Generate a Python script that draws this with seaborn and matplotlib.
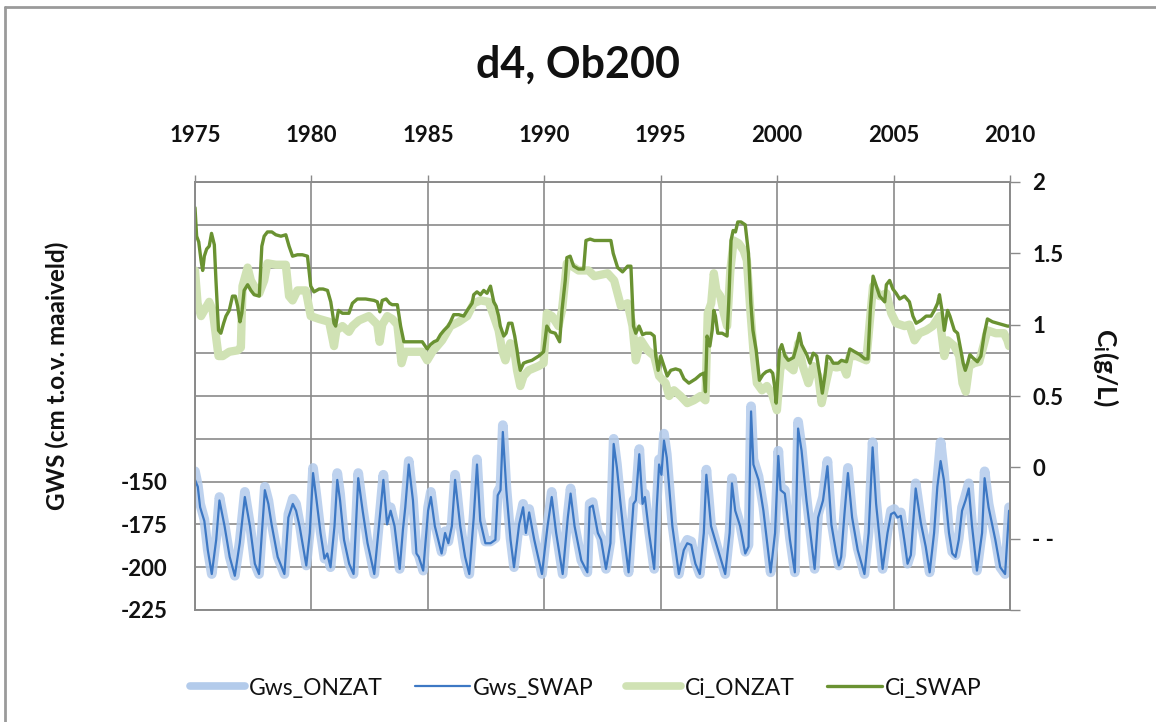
import matplotlib
matplotlib.use("Agg")
import matplotlib.pyplot as plt
import seaborn as sns
import pandas as pd
from matplotlib.lines import Line2D

# ---- groundwater level (cm relative to surface), primary axis ----
gws_years = [
    1975.0, 1975.12, 1975.22, 1975.40, 1975.55, 1975.72, 1975.91, 1976.05, 1976.27, 1976.49,
    1976.71, 1976.92, 1977.14, 1977.36, 1977.57, 1977.75, 1978.00, 1978.15, 1978.29, 1978.55,
    1978.84, 1979.01, 1979.20, 1979.34, 1979.49, 1979.64, 1979.78, 1979.93, 1980.07, 1980.22,
    1980.39, 1980.56, 1980.68, 1980.82, 1980.99, 1981.11, 1981.23, 1981.40, 1981.62, 1981.81,
    1981.94, 1982.01, 1982.20, 1982.41, 1982.70, 1982.92, 1983.09, 1983.25, 1983.40, 1983.57,
    1983.79, 1983.93, 1984.03, 1984.18, 1984.36, 1984.51, 1984.61, 1984.80, 1985.01, 1985.13,
    1985.30, 1985.59, 1985.74, 1985.88, 1986.03, 1986.17, 1986.39, 1986.60, 1986.78, 1986.97,
    1987.11, 1987.25, 1987.47, 1987.69, 1987.90, 1988.00, 1988.12, 1988.22, 1988.37, 1988.55,
    1988.70, 1988.92, 1989.09, 1989.21, 1989.35, 1989.57, 1989.90, 1990.14, 1990.32, 1990.51,
    1990.79, 1991.01, 1991.13, 1991.30, 1991.59, 1991.85, 1991.95, 1992.08, 1992.30, 1992.44,
    1992.65, 1992.84, 1992.98, 1993.12, 1993.26, 1993.41, 1993.62, 1993.83, 1993.93, 1994.08,
    1994.22, 1994.32, 1994.50, 1994.72, 1994.83, 1994.93, 1995.03, 1995.14, 1995.26, 1995.50,
    1995.78, 1995.99, 1996.14, 1996.31, 1996.49, 1996.68, 1996.85, 1996.96, 1997.16, 1997.42,
    1997.77, 1997.96, 1998.06, 1998.20, 1998.41, 1998.63, 1998.77, 1998.88, 1998.98, 1999.20,
    1999.41, 1999.72, 1999.91, 2000.05, 2000.15, 2000.33, 2000.55, 2000.76, 2000.90, 2001.05,
    2001.26, 2001.61, 2001.76, 2001.97, 2002.16, 2002.33, 2002.54, 2002.65, 2002.75, 2002.89,
    2003.04, 2003.22, 2003.46, 2003.75, 2003.93, 2004.10, 2004.25, 2004.53, 2004.74, 2004.89,
    2005.03, 2005.17, 2005.31, 2005.46, 2005.60, 2005.74, 2005.95, 2006.17, 2006.38, 2006.55,
    2006.74, 2006.88, 2007.02, 2007.16, 2007.38, 2007.52, 2007.66, 2007.80, 2007.94, 2008.09,
    2008.23, 2008.37, 2008.58, 2008.80, 2008.91, 2009.08, 2009.37, 2009.58, 2009.79, 2009.96,
]
gws_swap = [
    -149, -153, -165, -173, -190, -204, -184, -161, -176, -194,
    -205, -186, -159, -176, -198, -204, -155, -163, -175, -194,
    -204, -171, -163, -167, -176, -188, -199, -180, -145, -161,
    -180, -195, -192, -200, -176, -149, -161, -184, -198, -204,
    -167, -148, -167, -186, -204, -173, -149, -175, -167, -176,
    -201, -178, -165, -140, -161, -192, -194, -202, -167, -159,
    -176, -192, -180, -186, -176, -149, -176, -194, -204, -171,
    -140, -173, -186, -186, -184, -158, -155, -121, -155, -184,
    -200, -175, -165, -180, -168, -184, -204, -176, -159, -180,
    -204, -171, -157, -176, -196, -203, -165, -164, -180, -184,
    -201, -186, -128, -142, -161, -180, -203, -163, -161, -134,
    -163, -159, -180, -201, -165, -140, -146, -126, -136, -176,
    -204, -190, -186, -187, -198, -204, -180, -146, -176, -188,
    -204, -180, -151, -167, -176, -192, -188, -109, -140, -149,
    -167, -203, -180, -135, -155, -157, -184, -203, -119, -132,
    -161, -201, -171, -161, -141, -175, -192, -199, -194, -169,
    -145, -171, -190, -204, -180, -130, -163, -201, -180, -169,
    -168, -171, -170, -184, -198, -193, -154, -174, -188, -203,
    -180, -153, -138, -149, -180, -192, -194, -184, -167, -161,
    -154, -176, -202, -180, -148, -165, -184, -200, -204, -167,
]
gws_onzat = [
    -144, -152, -163, -172, -190, -204, -183, -159, -175, -194,
    -205, -185, -156, -175, -198, -204, -153, -161, -174, -194,
    -204, -169, -160, -163, -174, -188, -199, -179, -142, -159,
    -179, -195, -191, -200, -175, -145, -157, -183, -198, -204,
    -165, -145, -165, -185, -204, -171, -146, -172, -165, -175,
    -201, -176, -162, -138, -160, -191, -193, -202, -165, -156,
    -174, -191, -179, -185, -174, -146, -175, -194, -204, -169,
    -137, -171, -185, -185, -183, -156, -153, -117, -153, -183,
    -200, -174, -163, -179, -166, -183, -204, -175, -156, -179,
    -204, -169, -154, -175, -196, -203, -163, -162, -179, -183,
    -201, -185, -125, -140, -160, -179, -203, -161, -159, -131,
    -161, -157, -179, -201, -163, -137, -144, -122, -134, -175,
    -204, -188, -184, -185, -197, -204, -179, -143, -175, -188,
    -204, -179, -148, -165, -175, -191, -187, -106, -137, -147,
    -165, -203, -179, -132, -153, -155, -183, -203, -115, -130,
    -159, -201, -169, -159, -138, -173, -191, -199, -193, -167,
    -142, -169, -189, -204, -179, -127, -161, -201, -179, -167,
    -166, -169, -168, -183, -198, -192, -151, -172, -187, -203,
    -179, -149, -127, -144, -179, -191, -193, -183, -165, -158,
    -151, -175, -202, -179, -144, -163, -183, -200, -204, -165,
]

# ---- chloride concentration (g/L), secondary axis ----
ci_swap_years = [
    1975.00, 1975.07, 1975.16, 1975.26, 1975.33, 1975.40, 1975.50, 1975.61, 1975.71, 1975.83,
    1975.90, 1976.01, 1976.11, 1976.23, 1976.33, 1976.47, 1976.61, 1976.73, 1976.83, 1976.93,
    1977.01, 1977.11, 1977.26, 1977.40, 1977.54, 1977.76, 1977.87, 1977.97, 1978.11, 1978.30,
    1978.47, 1978.69, 1978.90, 1979.04, 1979.19, 1979.40, 1979.61, 1979.83, 1979.97, 1980.11,
    1980.33, 1980.50, 1980.69, 1980.83, 1980.97, 1981.04, 1981.16, 1981.33, 1981.61, 1981.76,
    1981.97, 1982.33, 1982.69, 1982.83, 1982.94, 1983.04, 1983.21, 1983.36, 1983.47, 1983.69,
    1983.83, 1983.97, 1984.19, 1984.47, 1984.76, 1984.97, 1985.11, 1985.26, 1985.40, 1985.54,
    1985.69, 1985.87, 1985.97, 1986.11, 1986.33, 1986.54, 1986.69, 1986.90, 1986.97, 1987.11,
    1987.26, 1987.40, 1987.54, 1987.69, 1987.83, 1987.93, 1988.04, 1988.11, 1988.26, 1988.36,
    1988.47, 1988.61, 1988.73, 1988.83, 1988.90, 1988.97, 1989.11, 1989.26, 1989.47, 1989.76,
    1989.97, 1990.11, 1990.26, 1990.47, 1990.66, 1990.76, 1990.90, 1990.97, 1991.11, 1991.26,
    1991.47, 1991.69, 1991.79, 1991.97, 1992.15, 1992.44, 1992.86, 1992.96, 1993.15, 1993.36,
    1993.58, 1993.72, 1993.83, 1993.93, 1994.07, 1994.22, 1994.36, 1994.57, 1994.72, 1994.79,
    1994.89, 1995.00, 1995.14, 1995.28, 1995.43, 1995.64, 1995.83, 1996.00, 1996.21, 1996.50,
    1996.71, 1996.85, 1996.92, 1996.99, 1997.11, 1997.21, 1997.28, 1997.35, 1997.45, 1997.64,
    1997.85, 1997.92, 1998.02, 1998.11, 1998.21, 1998.31, 1998.45, 1998.63, 1998.77, 1998.87,
    1998.96, 1999.10, 1999.24, 1999.39, 1999.53, 1999.70, 1999.81, 1999.89, 1999.96, 2000.10,
    2000.20, 2000.34, 2000.48, 2000.70, 2000.84, 2000.95, 2001.05, 2001.27, 2001.41, 2001.55,
    2001.70, 2001.84, 2001.94, 2002.05, 2002.15, 2002.26, 2002.41, 2002.62, 2002.76, 2002.98,
    2003.12, 2003.33, 2003.55, 2003.76, 2003.90, 2004.00, 2004.12, 2004.26, 2004.40, 2004.62,
    2004.69, 2004.83, 2004.97, 2005.11, 2005.26, 2005.47, 2005.68, 2005.83, 2005.97, 2006.18,
    2006.40, 2006.61, 2006.75, 2006.89, 2006.97, 2007.08, 2007.18, 2007.32, 2007.42, 2007.61,
    2007.75, 2007.89, 2007.99, 2008.08, 2008.18, 2008.28, 2008.39, 2008.60, 2008.75, 2008.89,
    2009.03, 2009.25, 2009.46, 2009.67, 2009.89, 2009.96,
]
ci_swap = [
    1.82, 1.62, 1.58, 1.45, 1.38, 1.48, 1.53, 1.55, 1.64, 1.56,
    1.31, 0.96, 0.94, 1.01, 1.06, 1.10, 1.20, 1.20, 1.13, 1.02,
    1.08, 1.24, 1.28, 1.24, 1.21, 1.20, 1.55, 1.62, 1.65, 1.65,
    1.63, 1.62, 1.63, 1.55, 1.48, 1.49, 1.49, 1.48, 1.27, 1.23,
    1.25, 1.25, 1.24, 1.16, 1.01, 0.99, 1.10, 1.08, 1.08, 1.15,
    1.18, 1.18, 1.17, 1.16, 1.09, 1.17, 1.18, 1.15, 1.14, 1.14,
    0.99, 0.88, 0.88, 0.88, 0.88, 0.83, 0.86, 0.88, 0.89, 0.93,
    0.96, 0.99, 1.02, 1.07, 1.07, 1.06, 1.10, 1.15, 1.21, 1.23,
    1.21, 1.24, 1.22, 1.27, 1.16, 1.13, 1.06, 0.99, 0.92, 0.94,
    1.01, 1.01, 0.92, 0.82, 0.74, 0.68, 0.73, 0.74, 0.75, 0.78,
    0.81, 0.99, 0.95, 0.94, 0.88, 1.10, 1.31, 1.47, 1.48, 1.41,
    1.39, 1.39, 1.59, 1.60, 1.59, 1.59, 1.59, 1.50, 1.40, 1.37,
    1.41, 1.41, 0.99, 0.94, 0.99, 0.93, 0.94, 0.94, 0.92, 0.78,
    0.68, 0.78, 0.71, 0.64, 0.68, 0.69, 0.68, 0.62, 0.59, 0.62,
    0.65, 0.66, 0.53, 0.92, 0.85, 0.96, 1.10, 1.06, 0.94, 0.94,
    0.92, 1.15, 1.59, 1.66, 1.65, 1.72, 1.72, 1.70, 1.50, 1.15,
    0.96, 0.82, 0.61, 0.65, 0.67, 0.68, 0.66, 0.57, 0.45, 0.82,
    0.86, 0.78, 0.75, 0.77, 0.85, 0.94, 0.86, 0.79, 0.73, 0.80,
    0.78, 0.64, 0.52, 0.64, 0.78, 0.77, 0.73, 0.73, 0.75, 0.74,
    0.83, 0.81, 0.79, 0.76, 0.76, 1.10, 1.34, 1.27, 1.20, 1.16,
    1.28, 1.31, 1.25, 1.22, 1.18, 1.20, 1.16, 1.06, 1.01, 1.03,
    1.06, 1.06, 1.10, 1.15, 1.21, 1.10, 0.96, 1.10, 1.06, 0.96,
    0.94, 0.82, 0.73, 0.68, 0.73, 0.79, 0.77, 0.74, 0.78, 0.93,
    1.04, 1.02, 1.01, 1.00, 0.99, 0.99,
]
ci_onzat_years = [
    1975.00, 1975.11, 1975.26, 1975.40, 1975.61, 1975.76, 1975.90, 1976.01, 1976.19, 1976.47,
    1976.83, 1976.97, 1977.04, 1977.26, 1977.40, 1977.54, 1977.76, 1977.97, 1978.11, 1978.47,
    1978.90, 1979.04, 1979.19, 1979.40, 1979.76, 1979.97, 1980.33, 1980.76, 1980.97, 1981.07,
    1981.33, 1981.61, 1981.76, 1982.04, 1982.47, 1982.83, 1982.93, 1983.04, 1983.26, 1983.47,
    1983.69, 1983.87, 1984.01, 1984.33, 1984.76, 1984.97, 1985.19, 1985.61, 1985.97, 1986.33,
    1986.69, 1986.97, 1987.26, 1987.61, 1987.83, 1988.04, 1988.19, 1988.33, 1988.54, 1988.69,
    1988.83, 1988.97, 1989.11, 1989.33, 1989.76, 1989.97, 1990.11, 1990.33, 1990.61, 1990.76,
    1990.97, 1991.19, 1991.47, 1991.90, 1992.15, 1992.72, 1993.00, 1993.29, 1993.58, 1993.79,
    1993.93, 1994.15, 1994.43, 1994.72, 1994.93, 1995.21, 1995.36, 1995.57, 1995.85, 1996.14,
    1996.42, 1996.71, 1996.92, 1997.02, 1997.17, 1997.28, 1997.39, 1997.56, 1997.71, 1997.85,
    1997.99, 1998.13, 1998.35, 1998.56, 1998.70, 1998.85, 1999.00, 1999.13, 1999.35, 1999.56,
    1999.77, 1999.99, 2000.13, 2000.27, 2000.48, 2000.70, 2000.91, 2001.10, 2001.34, 2001.55,
    2001.77, 2001.91, 2002.12, 2002.26, 2002.55, 2002.83, 2002.98, 2003.12, 2003.40, 2003.83,
    2004.00, 2004.12, 2004.40, 2004.69, 2004.90, 2005.11, 2005.47, 2005.68, 2005.90, 2006.11,
    2006.40, 2006.68, 2006.97, 2007.18, 2007.32, 2007.61, 2007.82, 2007.96, 2008.10, 2008.25,
    2008.46, 2008.68, 2008.89, 2009.03, 2009.39, 2009.74, 2009.89, 2009.96,
]
ci_onzat = [
    1.38, 1.15, 1.06, 1.10, 1.16, 1.10, 0.92, 0.78, 0.78, 0.81,
    0.82, 0.84, 1.27, 1.40, 1.31, 1.27, 1.22, 1.31, 1.43, 1.42,
    1.42, 1.20, 1.17, 1.24, 1.24, 1.06, 1.04, 1.02, 0.85, 0.96,
    0.99, 0.95, 0.99, 1.03, 1.06, 1.00, 0.88, 1.00, 1.06, 1.04,
    1.00, 0.73, 0.81, 0.81, 0.81, 0.75, 0.81, 0.89, 0.99, 1.02,
    1.06, 1.15, 1.17, 1.16, 1.06, 0.96, 0.82, 0.75, 0.87, 0.85,
    0.68, 0.57, 0.64, 0.68, 0.71, 0.73, 1.08, 1.06, 0.99, 1.10,
    1.43, 1.41, 1.38, 1.38, 1.34, 1.36, 1.31, 1.13, 1.15, 0.99,
    0.75, 0.89, 0.82, 0.78, 0.64, 0.59, 0.50, 0.54, 0.50, 0.45,
    0.47, 0.50, 0.47, 1.08, 1.15, 1.36, 1.24, 1.20, 1.08, 0.99,
    1.38, 1.59, 1.57, 1.52, 1.45, 1.10, 0.78, 0.59, 0.54, 0.57,
    0.52, 0.40, 0.68, 0.78, 0.71, 0.68, 0.87, 0.71, 0.59, 0.71,
    0.64, 0.45, 0.61, 0.71, 0.70, 0.71, 0.65, 0.78, 0.78, 0.75,
    1.06, 1.27, 1.20, 1.22, 1.08, 1.01, 0.99, 1.00, 0.89, 0.94,
    0.96, 0.99, 1.06, 0.78, 0.89, 0.85, 0.78, 0.59, 0.53, 0.71,
    0.73, 0.74, 0.87, 0.96, 0.94, 0.94, 0.89, 0.85,
]

year_ticks = [1975, 1980, 1985, 1990, 1995, 2000, 2005, 2010]
gws_ticks = [-225, -200, -175, -150, -125, -100, -75, -50, -25, 0, 25]
gws_tick_labels = ["-225", "-200", "-175", "-150", "", "", "", "", "", "", ""]
ci_ticks = [-1.0, -0.5, 0.0, 0.5, 1.0, 1.5, 2.0]
ci_tick_labels = ["", "- -", "0", "0.5", "1", "1.5", "2"]

series_labels = ["Gws_ONZAT", "Gws_SWAP", "Ci_ONZAT", "Ci_SWAP"]
series_colors = ["#b3cbeb", "#3d78c4", "#d0e2b4", "#6a9232"]
series_widths = [7.0, 1.6, 6.0, 2.4]

gws_df = pd.DataFrame({"year": gws_years, "onzat": gws_onzat, "swap": gws_swap})
ci_swap_df = pd.DataFrame({"year": ci_swap_years, "ci": ci_swap})
ci_onzat_df = pd.DataFrame({"year": ci_onzat_years, "ci": ci_onzat})

sns.set_theme(style="white")
plt.rcParams["font.family"] = ["Lato", "DejaVu Sans"]
plt.rcParams["mathtext.fontset"] = "custom"
plt.rcParams["mathtext.rm"] = "Lato"
plt.rcParams["mathtext.it"] = "Lato:italic"
plt.rcParams["mathtext.bf"] = "Lato:bold"

grid_col = "#8a8a8a"
text_col = "#111111"

fig = plt.figure(figsize=(11.56, 7.22), dpi=100)
ax = fig.add_axes([195 / 1156, 1 - 610 / 722, 815 / 1156, 428 / 722])
ax2 = ax.twinx()

sns.lineplot(data=gws_df, x="year", y="onzat", ax=ax, color=series_colors[0],
             linewidth=series_widths[0], alpha=0.85, solid_joinstyle="round",
             solid_capstyle="round", estimator=None, sort=False)
sns.lineplot(data=gws_df, x="year", y="swap", ax=ax, color=series_colors[1],
             linewidth=series_widths[1], estimator=None, sort=False)
sns.lineplot(data=ci_onzat_df, x="year", y="ci", ax=ax2, color=series_colors[2],
             linewidth=series_widths[2], solid_joinstyle="round",
             solid_capstyle="round", estimator=None, sort=False)
sns.lineplot(data=ci_swap_df, x="year", y="ci", ax=ax2, color=series_colors[3],
             linewidth=series_widths[3], estimator=None, sort=False)

# primary axis: groundwater level, years on top
ax.set_xlim(1975, 2010)
ax.set_ylim(-225, 25)
ax.set_xticks(year_ticks)
ax.set_yticks(gws_ticks)
ax.set_yticklabels(gws_tick_labels)
ax.xaxis.tick_top()
ax.grid(True, color=grid_col, linewidth=1.2)
ax.set_axisbelow(True)
ax.tick_params(axis="x", top=True, bottom=False, length=5, width=1.0, color=grid_col,
               pad=21, labelsize=16, labelcolor=text_col)
ax.tick_params(axis="y", left=False, pad=14, labelsize=16, labelcolor=text_col)
for lab in ax.get_xticklabels() + ax.get_yticklabels():
    lab.set_fontweight("bold")
ax.set_xlabel("")
ax.set_ylabel("")

# secondary axis: chloride concentration
ax2.set_ylim(-1.0, 2.0)
ax2.set_yticks(ci_ticks)
ax2.set_yticklabels(ci_tick_labels)
ax2.grid(False)
ax2.tick_params(axis="y", right=True, length=7, width=1.0, color=grid_col,
                pad=9, labelsize=16, labelcolor=text_col)
for lab in ax2.get_yticklabels():
    lab.set_fontweight("bold")
ax2.set_ylabel("")

for a in (ax, ax2):
    for side, sp in a.spines.items():
        sp.set_color(grid_col)
        sp.set_linewidth(1.2)

# axis titles
fig.text(57 / 1156, 1 - 376 / 722, "GWS (cm t.o.v. maaiveld)", rotation=90,
         ha="center", va="center", fontsize=17.5, fontweight="bold", color=text_col)
fig.text(1106 / 1156, 1 - 367 / 722, r"C$_\mathbf{i}$(g/L)", rotation=270,
         ha="center", va="center", fontsize=19, fontweight="bold", color=text_col)

fig.text(0.5, 1 - 65 / 722, "d4, Ob200", ha="center", va="center",
         fontsize=31, fontweight="bold", color=text_col)

handles = [Line2D([0], [0], color=c, linewidth=w if w < 5 else 5.5)
           for c, w in zip(series_colors, series_widths)]
fig.legend(handles, series_labels, loc="center", bbox_to_anchor=(0.507, 1 - 688 / 722),
           ncol=4, frameon=False, fontsize=16.5, handlelength=2.4, handletextpad=0.15,
           columnspacing=1.4, labelcolor=text_col)

# outer chart border (top and left edges)
fig.add_artist(Line2D([5 / 1156, 1.0], [1 - 7 / 722, 1 - 7 / 722], transform=fig.transFigure,
                      color="#9a9a9a", linewidth=2.0))
fig.add_artist(Line2D([5 / 1156, 5 / 1156], [0.0, 1 - 7 / 722], transform=fig.transFigure,
                      color="#9a9a9a", linewidth=2.0))

fig.savefig("out.png", dpi=100, facecolor="white")
